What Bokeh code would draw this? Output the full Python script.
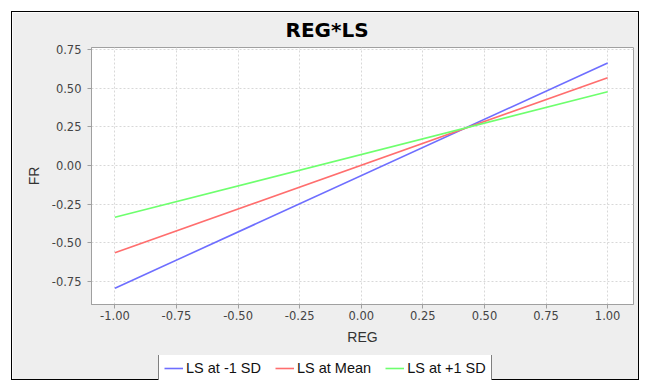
from bokeh.plotting import figure
from bokeh.layouts import column
from bokeh.models import FixedTicker, NumeralTickFormatter, Range1d, Legend, LegendItem
from bokeh.embed import file_html
from bokeh.resources import INLINE

reg = [-1.0, 1.0]
fr_minus_sd = [-0.795, 0.663]
fr_mean = [-0.565, 0.568]
fr_plus_sd = [-0.336, 0.477]
series_names = ["LS at -1 SD", "LS at Mean", "LS at +1 SD"]
series_colors = ["#6E6EFF", "#FF6E6E", "#6EFF6E"]
x_ticks = [-1.0, -0.75, -0.5, -0.25, 0.0, 0.25, 0.5, 0.75, 1.0]
y_ticks = [-0.75, -0.5, -0.25, 0.0, 0.25, 0.5, 0.75]
series = [fr_minus_sd, fr_mean, fr_plus_sd]

p = figure(width=628, height=369, output_backend="svg", toolbar_location=None,
           x_range=Range1d(-1.095, 1.105), y_range=Range1d(-0.90, 0.763),
           title="REG*LS", min_border_left=79, min_border_right=7,
           min_border_top=35, min_border_bottom=77, margin=(11, 0, 0, 11))

p.border_fill_color = "#EEEEEE"
p.background_fill_color = "white"
p.outline_line_color = "#A0A0A0"
p.styles = {"border": "1px solid black"}

p.title.text_font = "DejaVu Sans"
p.title.text_font_size = "20px"
p.title.text_font_style = "bold"
p.title.text_color = "black"
p.title.align = "left"
p.title.offset = 194
p.title.vertical_align = "top"
p.title.standoff = 8

for ys, c in zip(series, series_colors):
    p.line(reg, ys, line_color=c, line_width=1.6)

for ax in [p.xaxis[0], p.yaxis[0]]:
    ax.major_label_text_font = "DejaVu Sans"
    ax.major_label_text_font_size = "11.5px"
    ax.major_label_text_color = "#444444"
    ax.axis_label_text_font = "Liberation Sans"
    ax.axis_label_text_font_size = "14px"
    ax.axis_label_text_font_style = "normal"
    ax.axis_label_text_color = "#333333"
    ax.axis_line_color = "#A0A0A0"
    ax.major_tick_line_color = "#A0A0A0"
    ax.major_tick_out = 4
    ax.major_tick_in = 0
    ax.minor_tick_line_color = None
    ax.formatter = NumeralTickFormatter(format="0.00")

p.xaxis.ticker = FixedTicker(ticks=x_ticks)
p.yaxis.ticker = FixedTicker(ticks=y_ticks)
p.xaxis.axis_label = "REG"
p.yaxis.axis_label = "FR"
p.xaxis.axis_label_standoff = 6
p.yaxis.axis_label_standoff = 7
p.xaxis.major_label_standoff = 2
p.yaxis.major_label_standoff = 6

for g in [p.xgrid[0], p.ygrid[0]]:
    g.grid_line_color = "#D8D8D8"
    g.grid_line_dash = "2 2"
    g.grid_line_width = 1

# transparent legend strip laid over the bottom of the chart panel (cut by the window edge)
lf = figure(width=628, height=25, output_backend="svg", toolbar_location=None,
            x_range=Range1d(5, 6), y_range=Range1d(5, 6),
            x_axis_location=None, y_axis_location=None, min_border=0,
            margin=(-25, 0, 0, 11))
lf.styles = {"border-left": "1px solid transparent", "border-right": "1px solid transparent"}
lf.grid.visible = False
lf.outline_line_color = None
lf.background_fill_color = None
lf.border_fill_color = None
lrs = [lf.line(reg, ys, line_color=c, line_width=1.6) for ys, c in zip(series, series_colors)]

legend = Legend(items=[LegendItem(label=n, renderers=[r]) for n, r in zip(series_names, lrs)],
                orientation="horizontal", location=(67, -2))
legend.label_text_font = "Liberation Sans"
legend.label_text_font_size = "14.5px"
legend.label_text_color = "#111111"
legend.glyph_width = 19
legend.glyph_height = 14
legend.label_standoff = 3
legend.spacing = 14
legend.padding = 5
legend.margin = 0
legend.border_line_color = "black"
legend.background_fill_color = "white"
legend.background_fill_alpha = 1.0
lf.add_layout(legend, "center")

layout = column(p, lf, spacing=0)
open("out.html", "w").write(file_html(layout, INLINE))
